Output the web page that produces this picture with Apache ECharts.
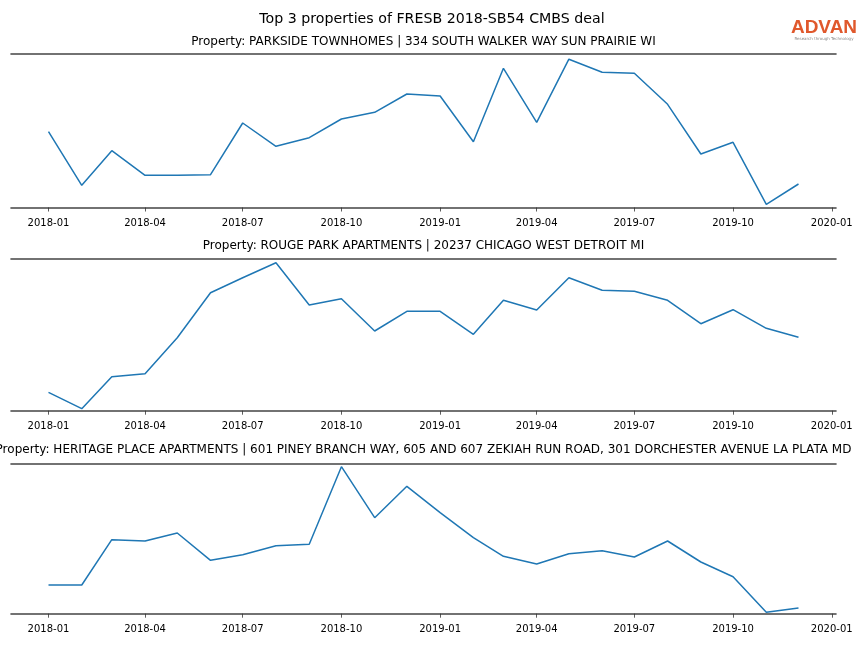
<!DOCTYPE html>
<html>
<head>
<meta charset="utf-8">
<script src="https://cdn.jsdelivr.net/npm/echarts@6/dist/echarts.min.js"></script>
<style>html,body{margin:0;padding:0;background:#fff}#c{width:864px;height:648px}</style>
</head>
<body>
<div id="c"></div>
<script>
var mainTitle = 'Top 3 properties of FRESB 2018-SB54 CMBS deal';
var subTitles = [
  'Property: PARKSIDE TOWNHOMES | 334 SOUTH WALKER WAY SUN PRAIRIE WI',
  'Property: ROUGE PARK APARTMENTS | 20237 CHICAGO WEST DETROIT MI',
  'Property: HERITAGE PLACE APARTMENTS | 601 PINEY BRANCH WAY, 605 AND 607 ZEKIAH RUN ROAD, 301 DORCHESTER AVENUE LA PLATA MD'
];
var months = ['2018-01','2018-02','2018-03','2018-04','2018-05','2018-06','2018-07','2018-08','2018-09','2018-10','2018-11','2018-12',
              '2019-01','2019-02','2019-03','2019-04','2019-05','2019-06','2019-07','2019-08','2019-09','2019-10','2019-11','2019-12'];
var parkside = [75.8,22.2,56.8,32.2,32.3,32.8,84.5,61.2,69.8,88.5,95.2,113.5,111.5,65.8,139.2,85.2,148.3,135.2,134.2,103.2,53.5,65.2,3.2,23.5];
var rouge = [18.4,2.0,34.0,37.0,73.0,118.0,133.0,148.0,105.7,112.0,79.7,99.4,99.4,76.4,110.4,100.7,133.0,120.4,119.4,110.4,87.0,101.0,82.4,73.4];
var heritage = [28.7,28.7,74.0,72.7,80.7,53.4,59.0,68.0,69.4,147.0,96.0,127.4,101.0,76.0,57.4,49.7,60.0,63.0,56.7,72.7,51.7,37.0,1.4,5.7];
var tickLabels = ['2018-01','2018-04','2018-07','2018-10','2019-01','2019-04','2019-07','2019-10','2020-01'];

function ts(m){ var p = m.split('-'); return Date.UTC(+p[0], +p[1]-1, 1); }
var firstT = ts(months[0]), lastT = ts(months[months.length-1]);
var margin = (lastT - firstT) * 0.05;
var xMin = firstT - margin, xMax = lastT + margin;
var tickVals = tickLabels.map(ts);

var seriesData = [parkside, rouge, heritage];
var grids = [
  {left: 11, right: 28, top: 54, height: 153.5},
  {left: 11, right: 28, top: 259, height: 151.7},
  {left: 11, right: 28, top: 463.7, height: 150}
];
var yMax = [153.5, 151.7, 150];
var subY = [42, 246, 450];

function fmt(v){ var d = new Date(v); var m = d.getUTCMonth()+1; return d.getUTCFullYear() + '-' + (m<10?'0':'') + m; }

var xAxes = [], yAxes = [], series = [], graphics = [];
for (var i = 0; i < 3; i++) {
  xAxes.push({
    type: 'value', gridIndex: i, position: 'bottom', min: xMin, max: xMax,
    splitLine: {show: false},
    axisLine: {show: true, lineStyle: {color: '#444', width: 1.6}},
    axisTick: {show: true, customValues: tickVals, length: 4, lineStyle: {color: '#333', width: 0.8}},
    axisLabel: {show: true, customValues: tickVals, formatter: fmt, color: '#000', fontSize: 10, fontFamily: 'DejaVu Sans', margin: 11}
  });
  yAxes.push({type: 'value', gridIndex: i, min: 0, max: yMax[i], show: false});
  series.push({
    type: 'line', xAxisIndex: i, yAxisIndex: i, showSymbol: false, symbol: 'none',
    lineStyle: {color: '#1f77b4', width: 1.5}, animation: false,
    data: months.map(function(m, k){ return [ts(m), seriesData[i][k]]; })
  });
  graphics.push({type: 'text', x: 423.5, y: subY[i], style: {text: subTitles[i], fill: '#000', font: '12px "DejaVu Sans"', textAlign: 'center', textVerticalAlign: 'middle'}});
}
for (var j = 0; j < 3; j++) {
  xAxes.push({
    type: 'value', gridIndex: j, position: 'top', min: xMin, max: xMax,
    splitLine: {show: false},
    axisLine: {show: true, onZero: false, lineStyle: {color: '#444', width: 1.6}},
    axisTick: {show: false}, axisLabel: {show: false}
  });
}
graphics.push({type: 'text', x: 432, y: 19.5, style: {text: mainTitle, fill: '#000', font: '14.2px "DejaVu Sans"', textAlign: 'center', textVerticalAlign: 'middle'}});
graphics.push({type: 'text', x: 824, y: 28, style: {text: 'ADVAN', fill: '#e0582c', font: 'bold 19px "Liberation Sans"', textAlign: 'center', textVerticalAlign: 'middle'}});
graphics.push({type: 'text', x: 824, y: 38.5, style: {text: 'Research through Technology', fill: '#888', font: '4px "DejaVu Sans"', textAlign: 'center', textVerticalAlign: 'middle'}});

var chart = echarts.init(document.getElementById('c'), null, {renderer: 'canvas'});
chart.setOption({
  animation: false,
  backgroundColor: '#fff',
  grid: grids.map(function(g){ return Object.assign({outerBoundsMode: 'none', containLabel: false}, g); }),
  xAxis: xAxes,
  yAxis: yAxes,
  series: series,
  graphic: graphics
});
</script>
</body>
</html>
